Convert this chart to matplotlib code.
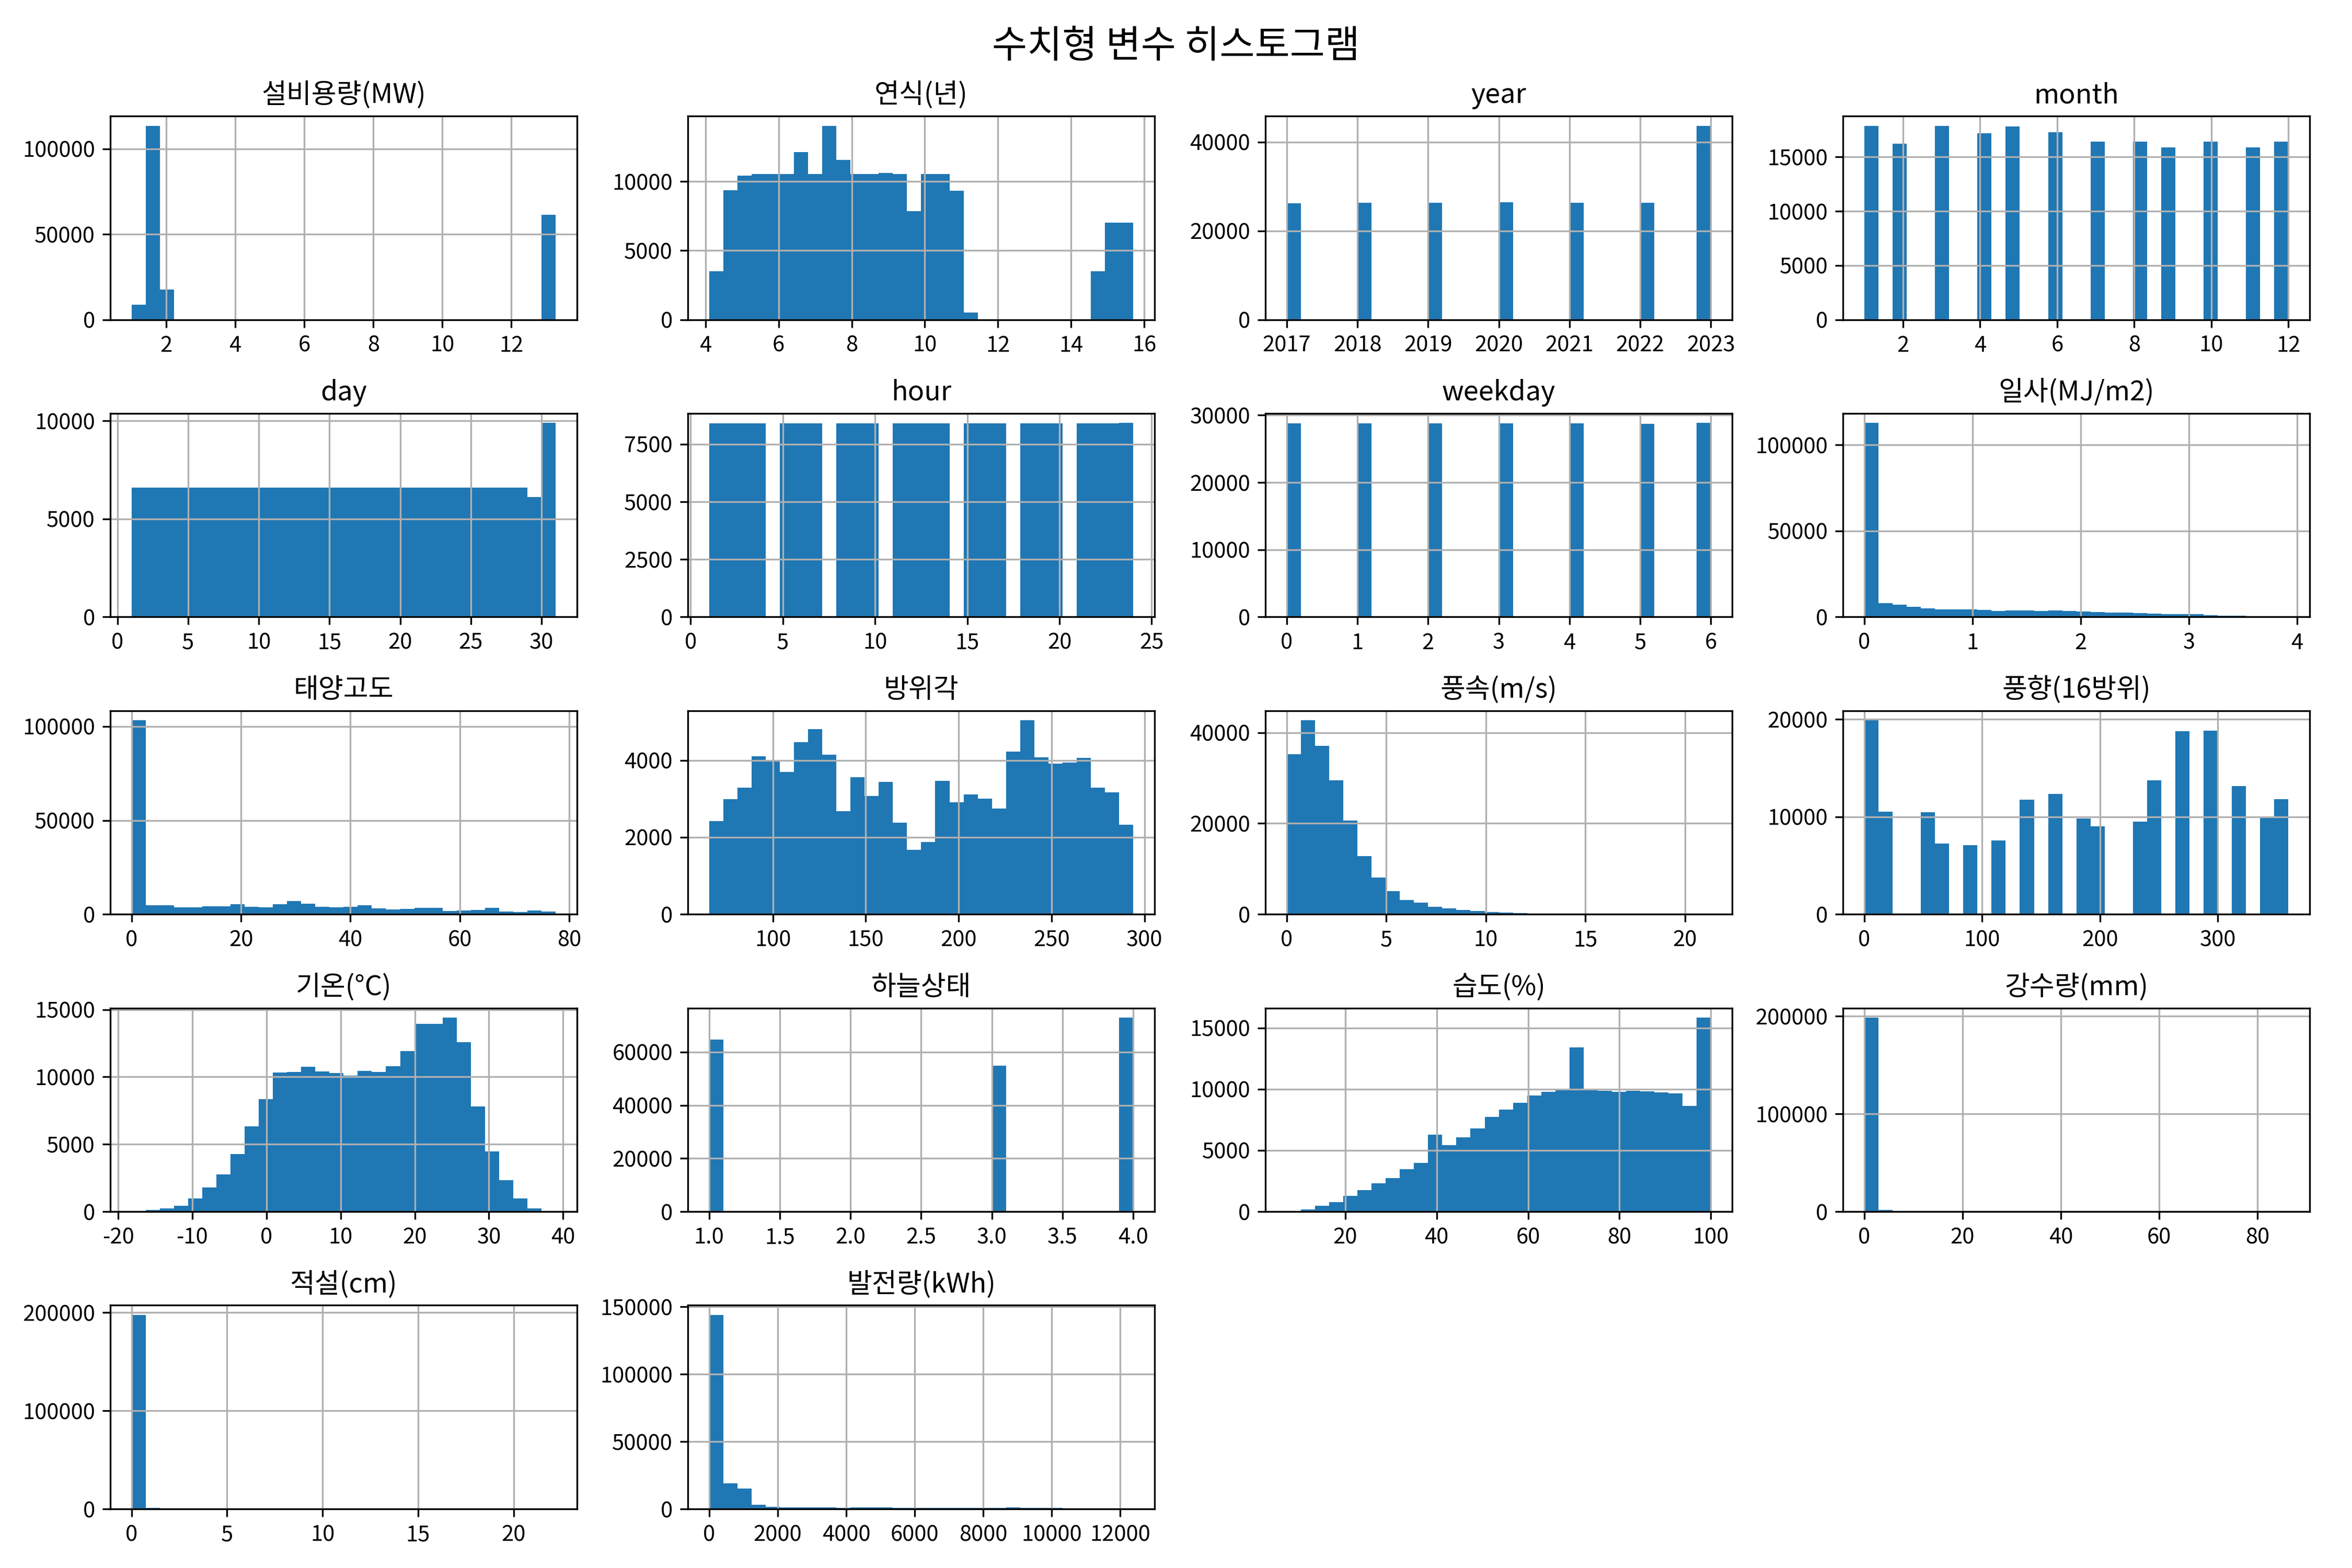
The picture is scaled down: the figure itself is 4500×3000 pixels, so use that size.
import matplotlib
matplotlib.use('Agg')
import matplotlib.pyplot as plt
import numpy as np

plt.rcParams['font.family'] = ['Noto Sans CJK KR', 'DejaVu Sans']
plt.rcParams['axes.unicode_minus'] = False

# Bin counts, 30 bins per variable
capacity = [8700, 113600, 17600] + [0] * 26 + [61450]
age = [3490, 9360, 10420, 10540, 10540, 10540, 12130, 10540, 14030, 11560,
       10540, 10540, 10610, 10540, 7840, 10540, 10540, 9330, 510, 0,
       0, 0, 0, 0, 0, 0, 0, 3490, 7020, 7020]
year = [26200, 0, 0, 0, 0, 26340, 0, 0, 0, 0,
        26340, 0, 0, 0, 0, 26430, 0, 0, 0, 0,
        26340, 0, 0, 0, 0, 26340, 0, 0, 0, 43680]
month = [17880, 0, 16240, 0, 0, 17880, 0, 0, 17160, 0,
         17820, 0, 0, 17290, 0, 0, 16430, 0, 0, 16430,
         0, 15900, 0, 0, 16430, 0, 0, 15900, 0, 16430]
day = [6607] * 28 + [6130, 9894]
hour = [8400, 8400, 8400, 8400, 0, 8400, 8400, 8400, 0, 8400,
        8400, 8400, 0, 8400, 8400, 8400, 8400, 0, 8400, 8400,
        8400, 0, 8400, 8400, 8400, 0, 8400, 8400, 8400, 8420]
weekday = [28770, 0, 0, 0, 0, 28770, 0, 0, 0, 0,
           28770, 0, 0, 0, 0, 28770, 0, 0, 0, 0,
           28770, 0, 0, 0, 0, 28670, 0, 0, 0, 28830]
insolation = [112770, 7950, 7100, 5900, 4940, 4340, 4340, 4340, 3980, 3370,
              3730, 3730, 3370, 3730, 3490, 3130, 2770, 2530, 2530, 2170,
              1930, 1570, 1570, 1570, 1200, 840, 600, 240, 120, 20]
elevation = [103190, 4840, 4840, 3630, 3630, 4290, 4290, 5380, 3960, 3630,
             5380, 7030, 5600, 3960, 3630, 3960, 4840, 3080, 2530, 2860,
             3410, 3410, 1760, 1980, 2310, 3410, 1430, 1210, 1980, 1430]
azimuth = [2418, 2987, 3287, 4097, 4000, 3689, 4466, 4804, 4139, 2676,
           3555, 3067, 3432, 2375, 1673, 1877, 3458, 2906, 3110, 3003,
           2740, 4220, 5035, 4070, 3909, 3936, 4059, 3287, 3164, 2322]
wind_speed = [35180, 42680, 37050, 29450, 20590, 12770, 8090, 5090, 3140, 2550,
              1640, 1270, 950, 730, 500, 360, 270, 150, 80, 40,
              20, 10, 5, 3, 2, 1, 1, 0, 0, 1]
wind_dir = [19900, 10530, 0, 0, 10470, 7230, 0, 7080, 0, 7570,
            0, 11770, 0, 12370, 0, 9830, 9020, 0, 0, 9510,
            13750, 0, 18780, 0, 18830, 0, 13180, 0, 9870, 11810]
temperature = [10, 120, 245, 430, 980, 1795, 2760, 4280, 6330, 8340,
               10320, 10370, 10750, 10400, 10290, 10090, 10440, 10370, 10780, 11920,
               13930, 13930, 14400, 12580, 7810, 4460, 2330, 980, 245, 15]
sky = [64600] + [0] * 19 + [54800] + [0] * 8 + [72900]
humidity = [20, 185, 470, 775, 1280, 1750, 2310, 2730, 3460, 3980,
            6270, 5430, 6070, 6800, 7720, 8330, 8870, 9480, 9780, 9950,
            13410, 9950, 9870, 9780, 9870, 9810, 9730, 9650, 8620, 15830]
rain = [198500, 1500, 200, 80, 40, 20, 10, 5, 3, 2,
        1, 1, 1, 0, 0, 0, 0, 0, 0, 0,
        0, 0, 0, 0, 0, 0, 0, 0, 0, 1]
snow = [197400, 800, 400, 100, 60, 40, 20, 10, 5, 3,
        2, 1, 1, 1, 0, 0, 0, 0, 0, 0,
        0, 0, 0, 0, 0, 0, 0, 0, 0, 1]
power = [143900, 19080, 15200, 3150, 1580, 1290, 1290, 1290, 1290, 860,
         1290, 1290, 1290, 720, 720, 720, 720, 720, 720, 720,
         720, 1290, 720, 720, 720, 150, 150, 150, 150, 100]

titles = ['설비용량(MW)', '연식(년)', 'year', 'month', 'day', 'hour', 'weekday',
          '일사(MJ/m2)', '태양고도', '방위각', '풍속(m/s)', '풍향(16방위)',
          '기온(°C)', '하늘상태', '습도(%)', '강수량(mm)', '적설(cm)', '발전량(kWh)']
counts = [capacity, age, year, month, day, hour, weekday, insolation, elevation,
          azimuth, wind_speed, wind_dir, temperature, sky, humidity, rain, snow,
          power]
# Smallest and largest value of each variable
lows = [1.0, 4.1, 2017, 1, 1, 1, 0, 0, 0, 65.7, 0, 0, -18.2, 1, 7.2, 0, 0, 0]
highs = [13.28, 15.7, 2023, 12, 31, 24, 6, 3.92, 77.5, 294, 21.3, 360, 39.0, 4,
         100, 86.3, 22.2, 12377]

fig, axes = plt.subplots(5, 4, figsize=(15, 10))
axes = axes.flatten()
for ax, title, count, low, high in zip(axes, titles, counts, lows, highs):
    edges = np.linspace(low, high, len(count) + 1)
    centers = (edges[:-1] + edges[1:]) / 2
    ax.hist(centers, bins=edges, weights=count, color='#1f77b4')
    ax.set_title(title, fontsize=12.5)
    ax.grid(True)
# Two cells of the grid stay empty
for ax in axes[len(titles):]:
    ax.remove()

fig.suptitle('수치형 변수 히스토그램', fontsize=17.5, y=0.983)
fig.subplots_adjust(left=211 / 4500, right=4419 / 4500, top=1 - 222 / 3000,
                    bottom=1 - 2887 / 3000, wspace=0.238, hspace=0.46)
fig.savefig('out.png', dpi=300)
plt.close(fig)
